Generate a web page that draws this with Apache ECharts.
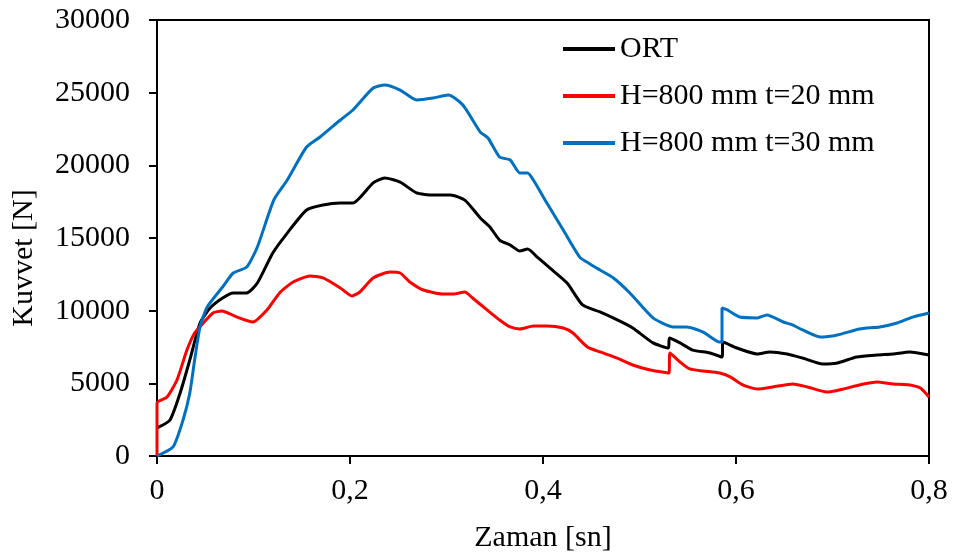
<!DOCTYPE html>
<html>
<head>
<meta charset="utf-8">
<script src="https://cdn.jsdelivr.net/npm/echarts@6/dist/echarts.min.js"></script>
<style>
html,body{margin:0;padding:0;background:#fff;}
#chart{width:955px;height:558px;}
</style>
</head>
<body>
<div id="chart"></div>
<script>
// ---- data (time in s, force in N) ----
const seriesNames = ['ORT', 'H=800 mm t=20 mm', 'H=800 mm t=30 mm'];

const ortTime = [0, 0.0135, 0.024, 0.034, 0.0446, 0.055, 0.068, 0.079, 0.093, 0.104, 0.120, 0.135, 0.155, 0.172, 0.190, 0.203, 0.224, 0.236, 0.252, 0.269, 0.286, 0.304, 0.319, 0.335, 0.345, 0.355, 0.366, 0.376, 0.384, 0.394, 0.407, 0.425, 0.441, 0.459, 0.477, 0.493, 0.514, 0.530, 0.531, 0.542, 0.555, 0.573, 0.5855, 0.5865, 0.601, 0.622, 0.635, 0.653, 0.669, 0.690, 0.705, 0.725, 0.746, 0.763, 0.780, 0.8];
const ortForce = [1930, 2480, 4340, 6610, 9150, 10180, 10870, 11220, 11220, 11900, 13970, 15340, 16930, 17270, 17410, 17410, 18790, 19130, 18850, 18100, 17960, 17960, 17610, 16380, 15760, 14860, 14520, 14100, 14240, 13690, 12940, 11900, 10390, 9910, 9360, 8810, 7780, 7430, 8120, 7780, 7290, 7090, 6810, 7840, 7430, 7020, 7160, 7020, 6740, 6330, 6400, 6810, 6950, 7020, 7160, 6950];

const t20Time = [0, 0, 0.0104, 0.0207, 0.031, 0.039, 0.048, 0.058, 0.067, 0.083, 0.0995, 0.114, 0.127, 0.141, 0.1585, 0.172, 0.190, 0.202, 0.210, 0.224, 0.2415, 0.252, 0.262, 0.276, 0.296, 0.307, 0.319, 0.327, 0.342, 0.355, 0.366, 0.376, 0.390, 0.404, 0.421, 0.431, 0.446, 0.459, 0.477, 0.493, 0.511, 0.5305, 0.5315, 0.542, 0.552, 0.566, 0.583, 0.594, 0.607, 0.622, 0.638, 0.659, 0.674, 0.694, 0.711, 0.728, 0.746, 0.763, 0.780, 0.791, 0.8];
const t20Force = [0, 3650, 4060, 5230, 7290, 8460, 9150, 9840, 9980, 9560, 9220, 10050, 11220, 11970, 12390, 12250, 11560, 11010, 11280, 12250, 12660, 12590, 11970, 11420, 11150, 11150, 11280, 10870, 10050, 9360, 8880, 8740, 8950, 8950, 8810, 8460, 7500, 7160, 6740, 6260, 5920, 5710, 7090, 6470, 5990, 5850, 5710, 5440, 4890, 4610, 4750, 4950, 4750, 4400, 4610, 4890, 5090, 4950, 4890, 4680, 4060];

const t30Time = [0, 0.0166, 0.027, 0.034, 0.039, 0.0446, 0.052, 0.068, 0.079, 0.093, 0.104, 0.121, 0.135, 0.155, 0.169, 0.190, 0.203, 0.224, 0.236, 0.252, 0.269, 0.286, 0.302, 0.317, 0.335, 0.343, 0.355, 0.366, 0.376, 0.384, 0.390, 0.404, 0.421, 0.438, 0.447, 0.459, 0.473, 0.490, 0.514, 0.535, 0.549, 0.566, 0.583, 0.5855, 0.5855, 0.591, 0.604, 0.622, 0.632, 0.649, 0.659, 0.669, 0.687, 0.705, 0.728, 0.749, 0.767, 0.783, 0.8];
const t30Force = [0, 620, 2480, 4336, 6600, 8876, 10250, 11630, 12590, 13000, 14380, 17610, 18990, 21260, 21950, 23120, 23810, 25320, 25530, 25180, 24500, 24630, 24840, 24150, 22290, 21880, 20570, 20370, 19470, 19470, 18990, 17410, 15550, 13690, 13280, 12800, 12250, 11220, 9500, 8880, 8880, 8530, 7840, 7840, 10180, 10050, 9560, 9500, 9700, 9220, 9010, 8670, 8190, 8330, 8740, 8880, 9150, 9560, 9840];

const xMin = 0, xMax = 0.8, xStep = 0.2;
const yMin = 0, yMax = 30000, yStep = 5000;
// ---------------------------------------

const zip = (a, b) => a.map((v, i) => [v, b[i]]);
const FONT = 'Liberation Serif';
const colors = ['#000000', '#FF0000', '#0070C0'];
const datasets = [zip(ortTime, ortForce), zip(t20Time, t20Force), zip(t30Time, t30Force)];

const chart = echarts.init(document.getElementById('chart'), null, {renderer: 'canvas'});
chart.setOption({
  animation: false,
  backgroundColor: '#fff',
  textStyle: {fontFamily: FONT, color: '#000'},
  grid: {left: 157, right: 26, top: 20, bottom: 102, show: true, borderColor: '#000', borderWidth: 2, backgroundColor: 'transparent', containLabel: false},
  legend: {
    orient: 'vertical', left: 558, top: 29, itemWidth: 52, itemHeight: 4, itemGap: 17, icon: 'rect',
    textStyle: {fontFamily: FONT, fontSize: 30, color: '#000', lineHeight: 30},
    data: seriesNames.map((n, i) => ({name: n, itemStyle: {color: colors[i]}}))
  },
  xAxis: {
    type: 'value', min: xMin, max: xMax, interval: xStep,
    axisLine: {show: true, onZero: false, lineStyle: {color: '#000', width: 2}},
    axisTick: {show: true, length: 8, lineStyle: {color: '#000', width: 2}},
    splitLine: {show: false},
    axisLabel: {fontFamily: FONT, fontSize: 30, color: '#000', margin: 20,
      formatter: v => (v === 0 ? '0' : v.toFixed(1).replace('.', ','))},
    name: 'Zaman [sn]', nameLocation: 'middle', nameGap: 67,
    nameTextStyle: {fontFamily: FONT, fontSize: 30, color: '#000'}
  },
  yAxis: {
    type: 'value', min: yMin, max: yMax, interval: yStep,
    axisLine: {show: true, onZero: false, lineStyle: {color: '#000', width: 2}},
    axisTick: {show: true, length: 8, lineStyle: {color: '#000', width: 2}},
    splitLine: {show: false},
    axisLabel: {fontFamily: FONT, fontSize: 30, color: '#000', margin: 27,
      formatter: v => String(v)},
    name: 'Kuvvet [N]', nameLocation: 'middle', nameGap: 118,
    nameTextStyle: {fontFamily: FONT, fontSize: 30, color: '#000', padding: [0, 40, 0, 0]}
  },
  series: seriesNames.map((n, i) => ({
    name: n, type: 'line', data: datasets[i], symbol: 'none',
    smooth: 0.2,
    lineStyle: {color: colors[i], width: 3}, itemStyle: {color: colors[i]}
  }))
});
</script>
</body>
</html>
